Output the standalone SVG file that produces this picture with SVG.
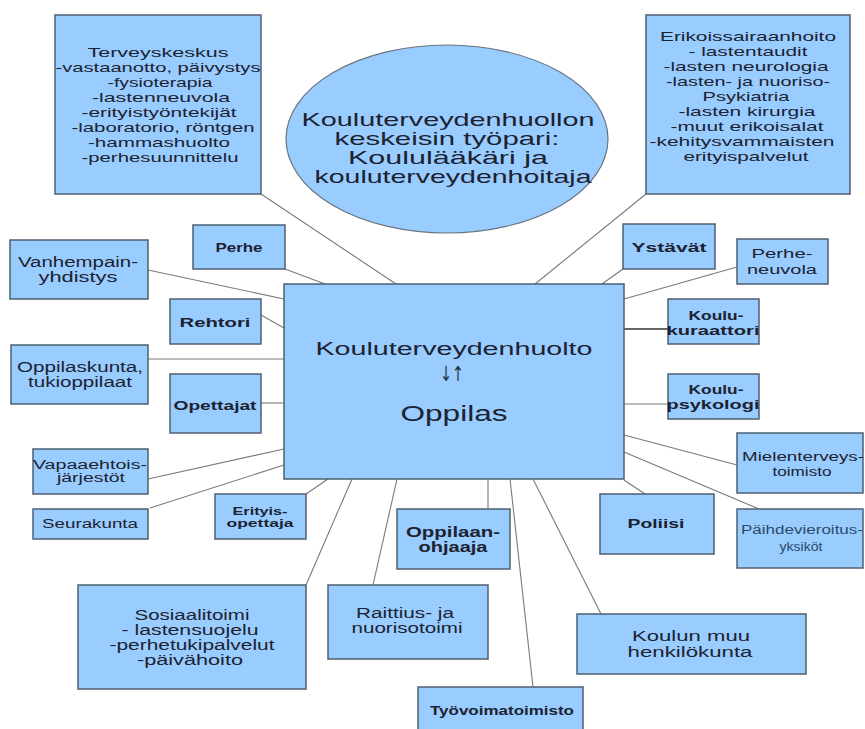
<svg xmlns="http://www.w3.org/2000/svg" width="865" height="729" viewBox="0 0 865 729">
<style>
.bg{fill:#ffffff}
.box{fill:#99ccff;stroke:#4f5f70;stroke-width:1.5}
.ell{fill:#99ccff;stroke:#6a7580;stroke-width:1.2}
.ln{stroke:#7a7a7a;stroke-width:1.1;fill:none}
.dk{stroke:#333333;stroke-width:1.6}
text{font-family:"Liberation Sans",Arial,sans-serif;fill:#1c2230;text-anchor:middle}
.b{font-weight:bold}
.s12{font-size:12px}
.s13{font-size:13px}
.s14{font-size:14px}
.blue{fill:#2c4a6a}
</style>
<rect class="bg" x="0" y="0" width="865" height="729"/>
<g id="connectors">
<line class="ln" x1="261" y1="194" x2="396" y2="284"/>
<line class="ln" x1="646" y1="194" x2="535" y2="284"/>
<line class="ln" x1="285" y1="269" x2="325" y2="284"/>
<line class="ln" x1="148" y1="270" x2="284" y2="299"/>
<line class="ln" x1="261" y1="315" x2="284" y2="328"/>
<line class="ln" x1="148" y1="359" x2="284" y2="359"/>
<line class="ln" x1="261" y1="403" x2="284" y2="403"/>
<line class="ln" x1="148" y1="479" x2="284" y2="449"/>
<line class="ln" x1="150" y1="508" x2="284" y2="465"/>
<line class="ln" x1="306" y1="494" x2="328" y2="479"/>
<line class="ln" x1="306" y1="585" x2="352" y2="479"/>
<line class="ln" x1="373" y1="585" x2="397" y2="479"/>
<line class="ln" x1="488" y1="509" x2="488" y2="479"/>
<line class="ln" x1="533" y1="687" x2="510" y2="479"/>
<line class="ln" x1="601" y1="614" x2="533" y2="479"/>
<line class="ln" x1="645" y1="494" x2="624" y2="480"/>
<line class="ln" x1="759" y1="509" x2="624" y2="452"/>
<line class="ln" x1="737" y1="465" x2="624" y2="435"/>
<line class="ln" x1="668" y1="404" x2="624" y2="404"/>
<line class="ln dk" x1="668" y1="329" x2="624" y2="329"/>
<line class="ln" x1="737" y1="267" x2="624" y2="299"/>
<line class="ln" x1="623" y1="269" x2="602" y2="284"/>
</g>
<g id="terveyskeskus">
<rect class="box" x="55" y="15" width="206" height="179"/>
<text class="s13" x="158" y="57" textLength="141" lengthAdjust="spacingAndGlyphs">Terveyskeskus</text>
<text class="s13" x="158" y="72" textLength="205" lengthAdjust="spacingAndGlyphs">-vastaanotto, päivystys</text>
<text class="s13" x="160" y="87" textLength="105" lengthAdjust="spacingAndGlyphs">-fysioterapia</text>
<text class="s13" x="161" y="102" textLength="138" lengthAdjust="spacingAndGlyphs">-lastenneuvola</text>
<text class="s13" x="159" y="117" textLength="155" lengthAdjust="spacingAndGlyphs">-erityistyöntekijät</text>
<text class="s13" x="163" y="132" textLength="183" lengthAdjust="spacingAndGlyphs">-laboratorio, röntgen</text>
<text class="s13" x="159" y="147" textLength="142" lengthAdjust="spacingAndGlyphs">-hammashuolto</text>
<text class="s13" x="160" y="162" textLength="157" lengthAdjust="spacingAndGlyphs">-perhesuunnittelu</text>
</g>
<g id="erikoissairaanhoito">
<rect class="box" x="646" y="15" width="204" height="179"/>
<text class="s13" x="748" y="41" textLength="176" lengthAdjust="spacingAndGlyphs">Erikoissairaanhoito</text>
<text class="s13" x="748" y="56" textLength="119" lengthAdjust="spacingAndGlyphs">- lastentaudit</text>
<text class="s13" x="746" y="71" textLength="165" lengthAdjust="spacingAndGlyphs">-lasten neurologia</text>
<text class="s13" x="748" y="86" textLength="164" lengthAdjust="spacingAndGlyphs">-lasten- ja nuoriso-</text>
<text class="s13" x="746" y="101" textLength="87" lengthAdjust="spacingAndGlyphs">Psykiatria</text>
<text class="s13" x="747" y="116" textLength="137" lengthAdjust="spacingAndGlyphs">-lasten kirurgia</text>
<text class="s13" x="747" y="131" textLength="153" lengthAdjust="spacingAndGlyphs">-muut erikoisalat</text>
<text class="s13" x="742" y="146" textLength="185" lengthAdjust="spacingAndGlyphs">-kehitysvammaisten</text>
<text class="s13" x="746" y="161" textLength="125" lengthAdjust="spacingAndGlyphs">erityispalvelut</text>
</g>
<g id="tyopari">
<ellipse class="ell" cx="447" cy="139" rx="161" ry="94"/>
<text style="font-size:19px" x="448" y="126" textLength="293" lengthAdjust="spacingAndGlyphs">Kouluterveydenhuollon</text>
<text style="font-size:19px" x="447" y="145" textLength="225" lengthAdjust="spacingAndGlyphs">keskeisin työpari:</text>
<text style="font-size:19px" x="448" y="164" textLength="200" lengthAdjust="spacingAndGlyphs">Koululääkäri ja</text>
<text style="font-size:19px" x="453" y="183" textLength="277" lengthAdjust="spacingAndGlyphs">kouluterveydenhoitaja</text>
</g>
<g id="center">
<rect class="box" x="284" y="284" width="340" height="195"/>
<text style="font-size:18px" x="454" y="355" textLength="277" lengthAdjust="spacingAndGlyphs">Kouluterveydenhuolto</text>
<text style="font-size:21px;font-family:'DejaVu Sans',sans-serif;fill:#1e3440" x="452" y="381" textLength="24" lengthAdjust="spacingAndGlyphs">↓↑</text>
<text style="font-size:22px" x="454" y="421" textLength="107" lengthAdjust="spacingAndGlyphs">Oppilas</text>
</g>
<g id="perhe">
<rect class="box" x="193" y="225" width="92" height="44"/>
<text class="s13 b" x="239" y="252" textLength="47" lengthAdjust="spacingAndGlyphs">Perhe</text>
</g>
<g id="vanhempainyhdistys">
<rect class="box" x="10" y="240" width="138" height="59"/>
<text class="s14" x="78" y="267" textLength="120" lengthAdjust="spacingAndGlyphs">Vanhempain-</text>
<text class="s14" x="78" y="282" textLength="79" lengthAdjust="spacingAndGlyphs">yhdistys</text>
</g>
<g id="rehtori">
<rect class="box" x="170" y="299" width="91" height="45"/>
<text class="s13 b" x="215" y="327" textLength="71" lengthAdjust="spacingAndGlyphs">Rehtori</text>
</g>
<g id="oppilaskunta">
<rect class="box" x="11" y="345" width="137" height="59"/>
<text class="s14" x="80" y="372" textLength="126" lengthAdjust="spacingAndGlyphs">Oppilaskunta,</text>
<text class="s14" x="80" y="387" textLength="104" lengthAdjust="spacingAndGlyphs">tukioppilaat</text>
</g>
<g id="opettajat">
<rect class="box" x="170" y="374" width="91" height="59"/>
<text class="s13 b" x="215" y="410" textLength="83" lengthAdjust="spacingAndGlyphs">Opettajat</text>
</g>
<g id="vapaaehtoisjarjestot">
<rect class="box" x="33" y="449" width="115" height="45"/>
<text class="s12" x="90" y="469" textLength="114" lengthAdjust="spacingAndGlyphs">Vapaaehtois-</text>
<text class="s12" x="91" y="482" textLength="68" lengthAdjust="spacingAndGlyphs">järjestöt</text>
</g>
<g id="seurakunta">
<rect class="box" x="33" y="509" width="115" height="30"/>
<text class="s12" x="90" y="528" textLength="96" lengthAdjust="spacingAndGlyphs">Seurakunta</text>
</g>
<g id="erityisopettaja">
<rect class="box" x="215" y="494" width="91" height="45"/>
<text class="b" style="font-size:11px" x="260" y="515" textLength="55" lengthAdjust="spacingAndGlyphs">Erityis-</text>
<text class="b" style="font-size:11px" x="260" y="527" textLength="67" lengthAdjust="spacingAndGlyphs">opettaja</text>
</g>
<g id="sosiaalitoimi">
<rect class="box" x="78" y="585" width="228" height="104"/>
<text class="s14" x="192" y="620" textLength="115" lengthAdjust="spacingAndGlyphs">Sosiaalitoimi</text>
<text class="s14" x="190" y="635" textLength="137" lengthAdjust="spacingAndGlyphs">- lastensuojelu</text>
<text class="s14" x="192" y="650" textLength="165" lengthAdjust="spacingAndGlyphs">-perhetukipalvelut</text>
<text class="s14" x="190" y="665" textLength="106" lengthAdjust="spacingAndGlyphs">-päivähoito</text>
</g>
<g id="raittius">
<rect class="box" x="328" y="585" width="160" height="74"/>
<text class="s14" x="405" y="618" textLength="98" lengthAdjust="spacingAndGlyphs">Raittius- ja</text>
<text class="s14" x="407" y="633" textLength="111" lengthAdjust="spacingAndGlyphs">nuorisotoimi</text>
</g>
<g id="oppilaanohjaaja">
<rect class="box" x="397" y="509" width="113" height="60"/>
<text class="s14 b" x="453" y="537" textLength="94" lengthAdjust="spacingAndGlyphs">Oppilaan-</text>
<text class="s14 b" x="453" y="552" textLength="69" lengthAdjust="spacingAndGlyphs">ohjaaja</text>
</g>
<g id="tyovoimatoimisto">
<rect class="box" x="418" y="687" width="165" height="50"/>
<text class="s12 b" x="502" y="715" textLength="144" lengthAdjust="spacingAndGlyphs">Työvoimatoimisto</text>
</g>
<g id="koulunmuu">
<rect class="box" x="577" y="614" width="229" height="60"/>
<text class="s14" x="691" y="641" textLength="118" lengthAdjust="spacingAndGlyphs">Koulun muu</text>
<text class="s14" x="690" y="657" textLength="125" lengthAdjust="spacingAndGlyphs">henkilökunta</text>
</g>
<g id="poliisi">
<rect class="box" x="600" y="494" width="114" height="60"/>
<text class="s13 b" x="656" y="528" textLength="57" lengthAdjust="spacingAndGlyphs">Poliisi</text>
</g>
<g id="paihdevieroitus">
<rect class="box" x="737" y="509" width="126" height="59"/>
<text class="s12 blue" x="802" y="534" textLength="122" lengthAdjust="spacingAndGlyphs">Päihdevieroitus-</text>
<text class="s12 blue" x="801" y="551" textLength="43" lengthAdjust="spacingAndGlyphs">yksiköt</text>
</g>
<g id="mielenterveystoimisto">
<rect class="box" x="737" y="433" width="126" height="60"/>
<text class="s12" x="803" y="461" textLength="122" lengthAdjust="spacingAndGlyphs">Mielenterveys-</text>
<text class="s12" x="802" y="476" textLength="59" lengthAdjust="spacingAndGlyphs">toimisto</text>
</g>
<g id="koulupsykologi">
<rect class="box" x="668" y="374" width="91" height="45"/>
<text class="s13 b" x="716" y="394" textLength="55" lengthAdjust="spacingAndGlyphs">Koulu-</text>
<text class="s13 b" x="713" y="409" textLength="93" lengthAdjust="spacingAndGlyphs">psykologi</text>
</g>
<g id="koulukuraattori">
<rect class="box" x="668" y="299" width="91" height="45"/>
<text class="s13 b" x="716" y="320" textLength="55" lengthAdjust="spacingAndGlyphs">Koulu-</text>
<text class="s13 b" x="713" y="335" textLength="93" lengthAdjust="spacingAndGlyphs">kuraattori</text>
</g>
<g id="perheneuvola">
<rect class="box" x="737" y="239" width="91" height="45"/>
<text class="s13" x="782" y="258" textLength="61" lengthAdjust="spacingAndGlyphs">Perhe-</text>
<text class="s13" x="782" y="274" textLength="70" lengthAdjust="spacingAndGlyphs">neuvola</text>
</g>
<g id="ystavat">
<rect class="box" x="623" y="224" width="92" height="45"/>
<text class="s13 b" x="669" y="252" textLength="75" lengthAdjust="spacingAndGlyphs">Ystävät</text>
</g>
</svg>
